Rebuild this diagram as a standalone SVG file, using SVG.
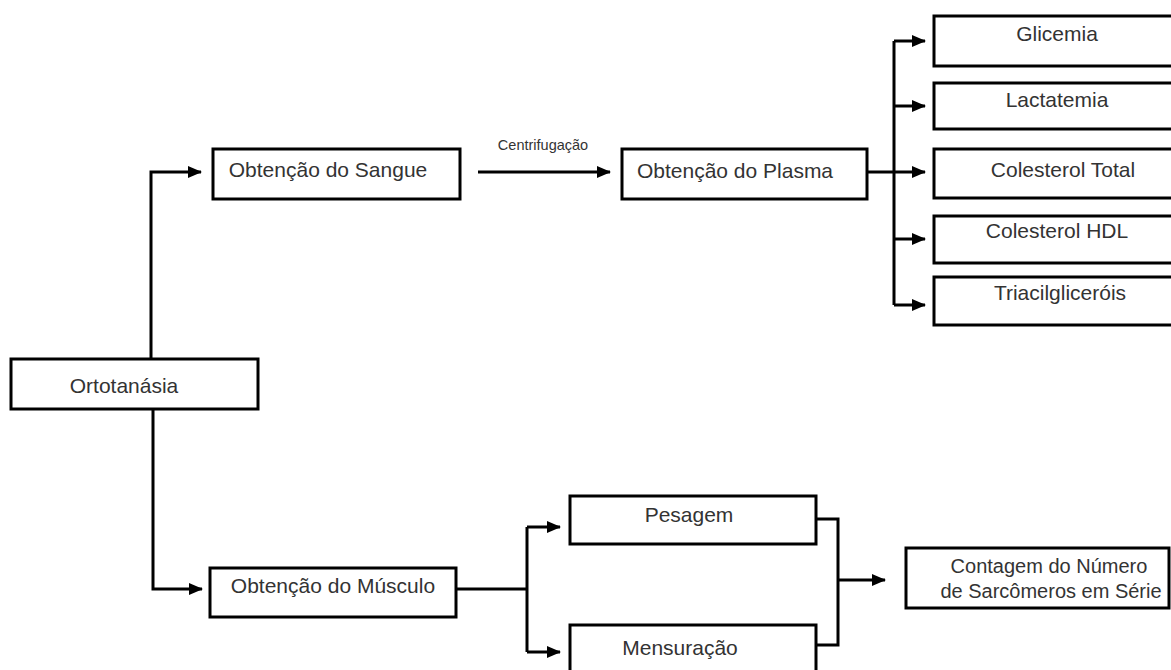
<svg xmlns="http://www.w3.org/2000/svg" width="1171" height="670" viewBox="0 0 1171 670">
<style>
.box{fill:#fff;stroke:#000;stroke-width:3}
.t{font-family:"Liberation Sans",Arial,sans-serif;font-size:21px;fill:#333;text-anchor:middle}
.s{font-family:"Liberation Sans",Arial,sans-serif;font-size:14.5px;fill:#333;text-anchor:middle}
.c{fill:none;stroke:#000;stroke-width:3}
</style>
<defs>
<marker id="ah" markerUnits="userSpaceOnUse" markerWidth="14" markerHeight="14" refX="13" refY="7" orient="auto">
<path d="M0,1 L14,7 L0,13 z" fill="#000"/>
</marker>
</defs>
<rect width="1171" height="670" fill="#fff"/>
<g id="connectors">
<path class="c" d="M151,359 V172 H201" marker-end="url(#ah)"/>
<path class="c" d="M153,409 V589 H202" marker-end="url(#ah)"/>
<path class="c" d="M478,172 H610" marker-end="url(#ah)"/>
<text class="s" x="543" y="150">Centrifugação</text>
<path class="c" d="M867,172 H925" marker-end="url(#ah)"/>
<path class="c" d="M894,41 V305"/>
<path class="c" d="M894,41 H925" marker-end="url(#ah)"/>
<path class="c" d="M894,106 H925" marker-end="url(#ah)"/>
<path class="c" d="M894,239 H925" marker-end="url(#ah)"/>
<path class="c" d="M894,305 H925" marker-end="url(#ah)"/>
<path class="c" d="M456,589 H527"/>
<path class="c" d="M527,527 V652"/>
<path class="c" d="M527,527 H560" marker-end="url(#ah)"/>
<path class="c" d="M527,652 H560" marker-end="url(#ah)"/>
<path class="c" d="M816,519 H838 V645 H816"/>
<path class="c" d="M838,580 H885" marker-end="url(#ah)"/>
</g>
<g id="ortotanasia"><rect class="box" x="11" y="359" width="247" height="50"/><text class="t" x="124" y="393">Ortotanásia</text></g>
<g id="sangue"><rect class="box" x="213" y="149" width="247" height="50"/><text class="t" x="328" y="177">Obtenção do Sangue</text></g>
<g id="plasma"><rect class="box" x="622" y="149" width="245" height="50"/><text class="t" x="735" y="178">Obtenção do Plasma</text></g>
<g id="glicemia"><rect class="box" x="934" y="16" width="250" height="50"/><text class="t" x="1057" y="41">Glicemia</text></g>
<g id="lactatemia"><rect class="box" x="934" y="83" width="250" height="46"/><text class="t" x="1057" y="107">Lactatemia</text></g>
<g id="colesterol-total"><rect class="box" x="934" y="149" width="250" height="49"/><text class="t" x="1063" y="177">Colesterol Total</text></g>
<g id="colesterol-hdl"><rect class="box" x="934" y="216" width="250" height="47"/><text class="t" x="1057" y="238">Colesterol HDL</text></g>
<g id="triacilglicerois"><rect class="box" x="934" y="277" width="250" height="48"/><text class="t" x="1060" y="300">Triacilgliceróis</text></g>
<g id="musculo"><rect class="box" x="210" y="568" width="246" height="49"/><text class="t" x="333" y="593">Obtenção do Músculo</text></g>
<g id="pesagem"><rect class="box" x="570" y="496" width="246" height="48"/><text class="t" x="689" y="522">Pesagem</text></g>
<g id="mensuracao"><rect class="box" x="570" y="625" width="246" height="60"/><text class="t" x="680" y="655">Mensuração</text></g>
<g id="contagem"><rect class="box" x="906" y="548" width="263" height="60"/><text class="t" x="1049" y="573" style="font-size:20px">Contagem do Número</text><text class="t" x="1051" y="598" style="font-size:20px">de Sarcômeros em Série</text></g>
</svg>
